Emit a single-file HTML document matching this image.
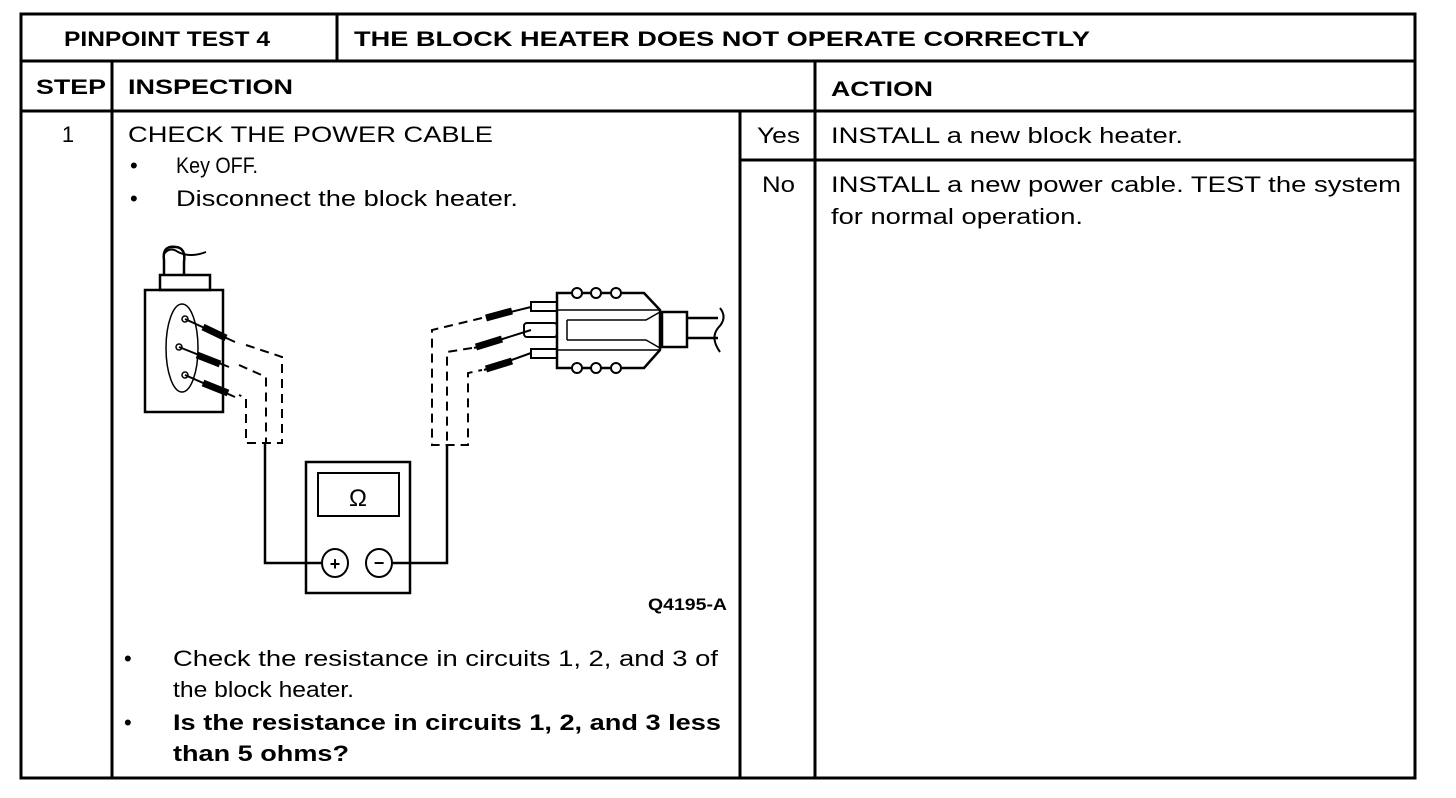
<!DOCTYPE html>
<html><head><meta charset="utf-8"><style>
html,body{margin:0;padding:0;background:#fff;}
svg{display:block;}
text{font-family:"Liberation Sans",Arial,sans-serif;fill:#000;}
.b{font-weight:bold;}
</style></head><body>
<svg width="1456" height="798" viewBox="0 0 1456 798" xmlns="http://www.w3.org/2000/svg">
<g stroke="#000" stroke-width="3" fill="none">
<rect x="21" y="14" width="1394" height="764"/>
<line x1="21" y1="61" x2="1415" y2="61"/>
<line x1="337" y1="14" x2="337" y2="61"/>
<line x1="21" y1="111" x2="1415" y2="111"/>
<line x1="112" y1="61" x2="112" y2="778"/>
<line x1="740" y1="111" x2="740" y2="778"/>
<line x1="815" y1="61" x2="815" y2="778"/>
<line x1="740" y1="160" x2="1415" y2="160"/>
</g>
<g font-size="22" lengthAdjust="spacingAndGlyphs">
<text x="64" y="46" class="b" font-size="21" textLength="206" lengthAdjust="spacingAndGlyphs">PINPOINT TEST 4</text>
<text x="354" y="46" class="b" font-size="21" textLength="736" lengthAdjust="spacingAndGlyphs">THE BLOCK HEATER DOES NOT OPERATE CORRECTLY</text>
<text x="36" y="94" class="b" font-size="21" textLength="70" lengthAdjust="spacingAndGlyphs">STEP</text>
<text x="128" y="94" class="b" font-size="21" textLength="165" lengthAdjust="spacingAndGlyphs">INSPECTION</text>
<text x="831" y="96" class="b" font-size="21" textLength="102" lengthAdjust="spacingAndGlyphs">ACTION</text>
<text x="68" y="142" text-anchor="middle">1</text>
<text x="128" y="142" textLength="365" lengthAdjust="spacingAndGlyphs">CHECK THE POWER CABLE</text>
<text x="130" y="173">•</text><text x="176" y="173" textLength="82" lengthAdjust="spacingAndGlyphs">Key OFF.</text>
<text x="130" y="206">•</text><text x="176" y="206" textLength="342" lengthAdjust="spacingAndGlyphs">Disconnect the block heater.</text>
<text x="124" y="666">•</text><text x="173" y="666" textLength="545" lengthAdjust="spacingAndGlyphs">Check the resistance in circuits 1, 2, and 3 of</text>
<text x="173" y="697" textLength="181" lengthAdjust="spacingAndGlyphs">the block heater.</text>
<text x="124" y="730">•</text><text x="173" y="730" class="b" textLength="548" lengthAdjust="spacingAndGlyphs">Is the resistance in circuits 1, 2, and 3 less</text>
<text x="173" y="761" class="b" textLength="176" lengthAdjust="spacingAndGlyphs">than 5 ohms?</text>
<text x="757" y="143" textLength="43" lengthAdjust="spacingAndGlyphs">Yes</text>
<text x="762" y="192" textLength="33" lengthAdjust="spacingAndGlyphs">No</text>
<text x="831" y="143" textLength="352" lengthAdjust="spacingAndGlyphs">INSTALL a new block heater.</text>
<text x="831" y="192" textLength="570" lengthAdjust="spacingAndGlyphs">INSTALL a new power cable. TEST the system</text>
<text x="831" y="224" textLength="252" lengthAdjust="spacingAndGlyphs">for normal operation.</text>
<text x="648" y="610" class="b" font-size="17" textLength="79" lengthAdjust="spacingAndGlyphs">Q4195-A</text>
</g>
<!-- diagram -->
<g stroke="#000" stroke-width="2.5" fill="none">
<path d="M164 275 V260 Q162 245 176 247 Q186 248 184 262 V275"/>
<path d="M164 254 Q170 246 178 252 Q190 258 206 252" stroke-width="2"/>
<rect x="160" y="275" width="50" height="15"/>
<rect x="145" y="290" width="78" height="122"/>
<ellipse cx="182" cy="348" rx="16" ry="44" stroke-width="1.5"/>
<circle cx="185" cy="319" r="3" stroke-width="1.5"/>
<circle cx="179" cy="347" r="3" stroke-width="1.5"/>
<circle cx="185" cy="375" r="3" stroke-width="1.5"/>
<path d="M185 319 L235 342 M179 347 L229 367 M185 375 L235 397" stroke-width="2"/>
<path d="M203 327 L226 338 M197 355 L220 364 M203 383 L228 393" stroke-width="7"/>
<g stroke-dasharray="9,6" stroke-width="2">
<path d="M246 345 L282 357 V443 H246 V398 L239 395"/>
<path d="M239 365 L266 377 V443"/>
</g>
<path d="M265 443 V563 H321"/>
<rect x="306" y="462" width="104" height="131"/>
<rect x="318" y="473" width="81" height="43" stroke-width="2"/>
<ellipse cx="335" cy="563" rx="13" ry="14" stroke-width="2"/>
<ellipse cx="379" cy="563" rx="13" ry="14" stroke-width="2"/>
<path d="M392 563 H447 V445"/>
<g stroke-dasharray="9,6" stroke-width="2">
<path d="M482 318 L432 330 V445 H468 V373 L482 370"/>
<path d="M472 348 L447 352 V445"/>
</g>
<path d="M486 318 L531 307 M474 348 L531 330 M484 370 L531 353" stroke-width="2"/>
<path d="M486 318 L512 311 M476 347 L502 339 M486 369 L512 361" stroke-width="7"/>
<rect x="531" y="302" width="26" height="9" stroke-width="2"/>
<rect x="524" y="323" width="33" height="14" rx="3" stroke-width="2"/>
<rect x="531" y="349" width="26" height="9" stroke-width="2"/>
<path d="M557 293 H644 L660 310 V350 L644 368 H557 Z"/>
<path d="M557 310 H660 M557 350 H660" stroke-width="1.5"/>
<path d="M567 320 H646 L660 312 M567 340 H646 L660 348 M567 320 V340" stroke-width="1.5"/>
<rect x="662" y="312" width="25" height="35"/>
<path d="M687 318 H718 M687 338 H718"/>
<path d="M720 308 Q728 318 718 328 Q710 338 720 352" stroke-width="2"/>
<g fill="#fff" stroke-width="2">
<circle cx="577" cy="293" r="5"/><circle cx="596" cy="293" r="5"/><circle cx="616" cy="293" r="5"/>
<circle cx="577" cy="368" r="5"/><circle cx="596" cy="368" r="5"/><circle cx="616" cy="368" r="5"/>
</g>
</g>
<text x="358" y="506" text-anchor="middle" font-size="24" font-family="Liberation Serif">Ω</text>
<text x="335" y="570" text-anchor="middle" font-size="18" class="b">+</text>
<text x="379" y="569" text-anchor="middle" font-size="18" class="b">−</text>
</svg>
</body></html>
